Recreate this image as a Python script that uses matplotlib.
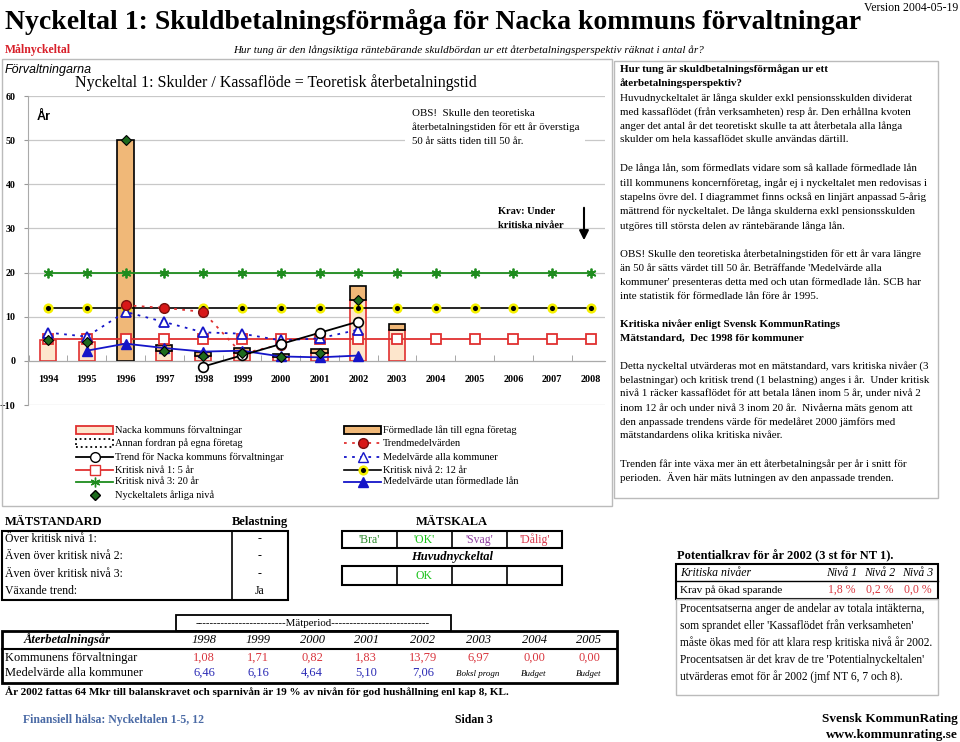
#!/usr/bin/env python3
import numpy as np
import matplotlib
matplotlib.use("Agg")
import matplotlib.pyplot as plt
from matplotlib.patches import Rectangle
from matplotlib.lines import Line2D

plt.rcParams["font.family"] = ["Liberation Serif", "DejaVu Serif"]

# --- data ------------------------------------------------------------------
years = list(range(1994, 2009))
bar_years = list(range(1994, 2004))
nacka = [4.8, 4.2, 0.0, 2.3, 1.08, 1.71, 0.82, 1.83, 13.79, 6.97]
formedlade = [0.0, 0.0, 50.0, 1.4, 1.0, 1.1, 0.7, 0.8, 3.2, 1.4]

arlig_years = list(range(1994, 2003))
arlig = [4.8, 4.2, 50.0, 2.3, 1.08, 1.71, 0.82, 1.83, 13.79]

trend_years = list(range(1998, 2003))
trend_nacka = [-1.3, 1.25, 3.8, 6.35, 8.9]

trendmedel_years = list(range(1996, 2001))
trendmedel = [12.6, 12.0, 11.1, 1.6, 3.7]

medel_alla_years = list(range(1994, 2003))
medel_alla = [6.4, 5.5, 11.1, 8.8, 6.46, 6.16, 4.64, 5.10, 7.06]

medel_utan_years = list(range(1995, 2003))
medel_utan = [2.3, 3.9, 2.9, 2.1, 2.3, 1.0, 0.8, 1.2]

niva1, niva2, niva3 = 5, 12, 20

tab_years = ["1998", "1999", "2000", "2001", "2002", "2003", "2004", "2005"]
kommun_vals = [1.08, 1.71, 0.82, 1.83, 13.79, 6.97, 0.00, 0.00]
medel_vals = [6.46, 6.16, 4.64, 5.10, 7.06]
medel_notes = ["Boksl progn", "Budget", "Budget"]

matstandard_rows = ["Över kritisk nivå 1:", "Även över kritisk nivå 2:",
                    "Även över kritisk nivå 3:", "Växande trend:"]
belastning = ["-", "-", "-", "Ja"]
matskala = ["'Bra'", "'OK'", "'Svag'", "'Dålig'"]
matskala_colors = ["#2E8B2E", "#19C219", "#8E3FA0", "#D8364A"]
pot_levels = ["Nivå 1", "Nivå 2", "Nivå 3"]
pot_vals = ["1,8 %", "0,2 %", "0,0 %"]

W, H = 960, 742
RED = "#E03030"
LIGHT = "#FDE6CC"
DARK = "#F0B878"
BLUE = "#1515C8"
GREEN = "#1E8C1E"
VALRED = "#D9363E"
VALBLUE = "#2B2BB5"

fig = plt.figure(figsize=(W / 100, H / 100), dpi=100)


def fx(x):
    return x / W


def fy(y):
    return 1 - y / H


def txt(x, y, s, **kw):
    kw.setdefault("va", "center")
    kw.setdefault("size", 8.5)
    fig.text(fx(x), fy(y), s, **kw)


def box(x0, y0, x1, y1, lw=1.0, color="black"):
    fig.add_artist(Rectangle((fx(x0), fy(y1)), (x1 - x0) / W, (y1 - y0) / H,
                             transform=fig.transFigure, fill=False,
                             lw=lw, edgecolor=color))


def line(x0, y0, x1, y1, lw=1.0, color="black"):
    fig.add_artist(Line2D([fx(x0), fx(x1)], [fy(y0), fy(y1)],
                          transform=fig.transFigure, lw=lw, color=color))


# --- header ------------------------------------------------------------------
txt(5, 22, "Nyckeltal 1: Skuldbetalningsförmåga för Nacka kommuns förvaltningar",
    size=20, weight="bold")
txt(958, 8, "Version 2004-05-19", size=8.5, ha="right")
txt(5, 50, "Målnyckeltal", size=8.5, weight="bold", color="#D8202A")
txt(233, 50, "Hur tung är den långsiktiga räntebärande skuldbördan ur ett "
    "återbetalningsperspektiv räknat i antal år?", size=8, style="italic")

# --- chart box ------------------------------------------------------------
box(2, 59, 612, 506, lw=1.0, color="#BBBBBB")
txt(5, 70, "Förvaltningarna", size=9, style="italic", family="Liberation Sans")
txt(276, 83, "Nyckeltal 1: Skulder / Kassaflöde = Teoretisk återbetalningstid",
    size=11.5, ha="center")

ax = fig.add_axes([fx(28), fy(405), (605 - 28) / W, (405 - 96) / H])
ax.spines["bottom"].set_position(("data", 0))
ax.set_ylim(-10, 60)
ax.set_xlim(-0.515, 14.36)

pos = {y: i for i, y in enumerate(years)}
xb = np.array([pos[y] for y in bar_years])
nacka_a = np.array(nacka)
form_a = np.array(formedlade)
m = nacka_a > 0
ax.bar(xb[m], nacka_a[m], width=0.42, color=LIGHT, edgecolor=RED, lw=1.2, zorder=2)
m2 = form_a > 0
ax.bar(xb[m2], form_a[m2], bottom=nacka_a[m2], width=0.42, color=DARK,
       edgecolor="black", lw=1.2, zorder=2)

xs = np.arange(len(years))
ax.plot(xs, [niva3] * len(years), color=GREEN, lw=1.3, marker=(6, 2, 0),
        ms=7, mec=GREEN, mew=1.3, zorder=3)
ax.plot(xs, [niva2] * len(years), color="black", lw=1.2, marker="o", ms=5.5,
        mfc="black", mec="#F5F000", mew=1.8, zorder=3)
ax.plot(xs, [niva1] * len(years), color=RED, lw=1.3, marker="s", ms=7,
        mfc="white", mec=RED, mew=1.3, zorder=3)

ax.plot([pos[y] for y in medel_alla_years], medel_alla, color=BLUE, lw=1.3,
        ls=(0, (1.5, 3)), marker="^", ms=7, mfc="white", mec=BLUE, mew=1.3, zorder=4)
ax.plot([pos[y] for y in trendmedel_years], trendmedel, color=RED, lw=1.3,
        ls=(0, (1.5, 3)), marker="o", ms=7, mfc="#D81818", mec="#7A1010", mew=1.0, zorder=4)
ax.plot([pos[y] for y in medel_utan_years], medel_utan, color=BLUE, lw=1.3,
        marker="^", ms=7, mfc=BLUE, mec=BLUE, zorder=4)
ax.plot([pos[y] for y in trend_years], trend_nacka, color="black", lw=1.3,
        marker="o", ms=7, mfc="white", mec="black", mew=1.2, zorder=5)
ax.plot([pos[y] for y in arlig_years], arlig, ls="none", marker="D", ms=5,
        mfc="#1E6B1E", mec="black", mew=0.8, zorder=6)

ax.set_yticks(range(-10, 61, 10))
ax.yaxis.grid(True, color="#C8C8C8", lw=0.9)
ax.set_axisbelow(True)
ax.tick_params(axis="y", length=3, color="#999999", pad=6, labelsize=7.2)
ax.set_xticks(xs)
ax.set_xticklabels([str(y) for y in years])
ax.set_xticks(np.arange(-0.5, 14.5, 1), minor=True)
ax.tick_params(axis="x", which="major", length=0, pad=10, labelsize=7.3)
ax.tick_params(axis="x", which="minor", length=4, color="#999999", direction="in")
for lab in ax.get_yticklabels() + ax.get_xticklabels():
    lab.set_fontweight("bold")
ax.spines["bottom"].set_color("#AAAAAA")
ax.spines["left"].set_color("#AAAAAA")
ax.spines["top"].set_visible(False)
ax.spines["right"].set_visible(False)
ax.set_facecolor("none")

txt(37, 117, "År", size=9, weight="bold", family="Liberation Sans")
fig.add_artist(Rectangle((fx(405), fy(150)), 180 / W, 44 / H, transform=fig.transFigure,
                         facecolor="white", edgecolor="none", zorder=1))
obs_lines = ["OBS!  Skulle den teoretiska", "återbetalningstiden för ett år överstiga",
             "50 år sätts tiden till 50 år."]
for i, s in enumerate(obs_lines):
    txt(412, 113 + 14.5 * i, s, size=7.8, zorder=2)
txt(498, 212, "Krav: Under", size=7.5, weight="bold")
txt(498, 226, "kritiska nivåer", size=7.5, weight="bold")
ax.annotate("", xy=(fx(584), fy(243)), xytext=(fx(584), fy(205)),
            xycoords="figure fraction", textcoords="figure fraction",
            arrowprops=dict(arrowstyle="-|>", color="black", lw=1.5, mutation_scale=14))

# --- legend (drawn by hand in figure pixels) -------------------------------
leg_rows = [430, 443, 457, 470, 482, 495]


def leg_patch(x, y, fc, ec, ls="-"):
    fig.add_artist(Rectangle((fx(x), fy(y + 4)), 37 / W, 8 / H, transform=fig.transFigure,
                             facecolor=fc, edgecolor=ec, lw=1.3, ls=ls))


def leg_line3(x, y, **kw):
    fig.add_artist(Line2D([fx(x), fx(x + 18.5), fx(x + 37)], [fy(y)] * 3,
                          transform=fig.transFigure, markevery=[1], **kw))


lx, rx = 76, 344
leg_patch(lx, leg_rows[0], LIGHT, RED)
leg_patch(lx, leg_rows[1], "none", "black", ls=":")
leg_line3(lx, leg_rows[2], color="black", lw=1.3, marker="o", ms=7, mfc="white", mec="black")
leg_line3(lx, leg_rows[3], color=RED, lw=1.3, marker="s", ms=7, mfc="white", mec=RED)
leg_line3(lx, leg_rows[4], color=GREEN, lw=1.3, marker=(6, 2, 0), ms=7, mec=GREEN)
leg_line3(lx, leg_rows[5], color="none", marker="D", ms=5, mfc="#1E6B1E", mec="black")
leg_patch(rx, leg_rows[0], DARK, "black")
leg_line3(rx, leg_rows[1], color=RED, lw=1.3, ls=(0, (1.5, 3)), marker="o", ms=7,
          mfc="#D81818", mec="#7A1010")
leg_line3(rx, leg_rows[2], color=BLUE, lw=1.3, ls=(0, (1.5, 3)), marker="^", ms=7,
          mfc="white", mec=BLUE)
leg_line3(rx, leg_rows[3], color="black", lw=1.2, marker="o", ms=5.5, mfc="black",
          mec="#F5F000", mew=1.8)
leg_line3(rx, leg_rows[4], color=BLUE, lw=1.3, marker="^", ms=7, mfc=BLUE, mec=BLUE)

left_labels = ["Nacka kommuns förvaltningar", "Annan fordran på egna företag",
               "Trend för Nacka kommuns förvaltningar", "Kritisk nivå 1: 5 år",
               "Kritisk nivå 3: 20 år", "Nyckeltalets årliga nivå"]
right_labels = ["Förmedlade lån till egna företag", "Trendmedelvärden",
                "Medelvärde alla kommuner", "Kritisk nivå 2: 12 år",
                "Medelvärde utan förmedlade lån"]
for y, s in zip(leg_rows, left_labels):
    txt(115, y, s, size=7.5)
for y, s in zip(leg_rows, right_labels):
    txt(383, y, s, size=7.5)

# --- right text box ------------------------------------------------------------
box(614, 61, 938, 498, lw=1.0, color="#BBBBBB")
right_text = [
    (69, "Hur tung är skuldbetalningsförmågan ur ett", "bold"),
    (83, "återbetalningsperspektiv?", "bold"),
    (98, "Huvudnyckeltalet är långa skulder exkl pensionsskulden dividerat", "normal"),
    (112, "med kassaflödet (från verksamheten) resp år. Den erhållna kvoten", "normal"),
    (126, "anger det antal år det teoretiskt skulle ta att återbetala alla långa", "normal"),
    (140, "skulder om hela kassaflödet skulle användas därtill.", "normal"),
    (168, "De långa lån, som förmedlats vidare som så kallade förmedlade lån", "normal"),
    (183, "till kommunens koncernföretag, ingår ej i nyckeltalet men redovisas i", "normal"),
    (197, "stapelns övre del. I diagrammet finns också en linjärt anpassad 5-årig", "normal"),
    (211, "mättrend för nyckeltalet. De långa skulderna exkl pensionsskulden", "normal"),
    (226, "utgöres till största delen av räntebärande långa lån.", "normal"),
    (254, "OBS! Skulle den teoretiska återbetalningstiden för ett år vara längre", "normal"),
    (268, "än 50 år sätts värdet till 50 år. Beträffande 'Medelvärde alla", "normal"),
    (282, "kommuner' presenteras detta med och utan förmedlade lån. SCB har", "normal"),
    (296, "inte statistik för förmedlade lån före år 1995.", "normal"),
    (324, "Kritiska nivåer enligt Svensk KommunRatings", "bold"),
    (338, "Mätstandard,  Dec 1998 för kommuner", "bold"),
    (366, "Detta nyckeltal utvärderas mot en mätstandard, vars kritiska nivåer (3", "normal"),
    (380, "belastningar) och kritisk trend (1 belastning) anges i år.  Under kritisk", "normal"),
    (394, "nivå 1 räcker kassaflödet för att betala lånen inom 5 år, under nivå 2", "normal"),
    (408, "inom 12 år och under nivå 3 inom 20 år.  Nivåerna mäts genom att", "normal"),
    (422, "den anpassade trendens värde för medelåret 2000 jämförs med", "normal"),
    (436, "mätstandardens olika kritiska nivåer.", "normal"),
    (464, "Trenden får inte växa mer än ett återbetalningsår per år i snitt för", "normal"),
    (478, "perioden.  Även här mäts lutningen av den anpassade trenden.", "normal"),
]
for y, s, w in right_text:
    txt(620, y, s, size=7.9, weight=w)

# --- MÄTSTANDARD -----------------------------------------------------------
txt(5, 522, "MÄTSTANDARD", size=9, weight="bold")
txt(260, 522, "Belastning", size=9, weight="bold", ha="center")
box(2, 531, 288, 600, lw=1.5)
line(232, 531, 232, 600, lw=1.2)
for y, s, b in zip([539, 556, 574, 591], matstandard_rows, belastning):
    txt(5, y, s, size=8.5)
    txt(260, y, b, size=8.5, ha="center")

txt(452, 522, "MÄTSKALA", size=9, weight="bold", ha="center")
box(342, 531, 562, 548, lw=1.5)
box(342, 566, 562, 585, lw=1.5)
for xd in [397, 452, 507]:
    line(xd, 531, xd, 548, lw=1.2)
    line(xd, 566, xd, 585, lw=1.2)
for i, (s, c) in enumerate(zip(matskala, matskala_colors)):
    txt(369.5 + 55 * i, 540, s, size=8.5, ha="center", color=c)
txt(452, 557, "Huvudnyckeltal", size=9, weight="bold", style="italic", ha="center")
txt(424.5, 576, "OK", size=8.5, ha="center", color=matskala_colors[1])

# --- Potentialkrav -------------------------------------------------------------
txt(677, 556, "Potentialkrav för år 2002 (3 st för NT 1).", size=9, weight="bold")
box(676, 564, 938, 599, lw=1.5)
line(676, 581, 938, 581, lw=1.0)
txt(680, 573, "Kritiska nivåer", size=8.5, style="italic")
txt(680, 590, "Krav på ökad sparande", size=8)
for i, (lv, v) in enumerate(zip(pot_levels, pot_vals)):
    txt(842 + 38 * i, 573, lv, size=8.5, style="italic", ha="center")
    txt(842 + 38 * i, 590, v, size=8.5, ha="center", color=VALRED)
box(676, 599, 938, 695, lw=1.0, color="#BBBBBB")
pot_text = ["Procentsatserna anger de andelar av totala intäkterna,",
            "som sprandet eller 'Kassaflödet från verksamheten'",
            "måste ökas med för att klara resp kritiska nivå år 2002.",
            "Procentsatsen är det krav de tre 'Potentialnyckeltalen'",
            "utvärderas emot för år 2002 (jmf NT 6, 7 och 8)."]
for i, s in enumerate(pot_text):
    txt(680, 609 + 17 * i, s, size=8.3)

# --- Återbetalningsår table ----------------------------------------------
box(176, 615, 451, 631, lw=1.3)
txt(313, 623, "-------------------------Mätperiod---------------------------",
    size=7.8, ha="center")
box(2, 631, 617, 683, lw=2.0)
line(2, 649, 617, 649, lw=1.5)
txt(67, 640, "Återbetalningsår", size=9, weight="bold", style="italic", ha="center")
col_x = [204, 258, 312, 366, 423, 478, 534, 589]
for cx, yr, kv in zip(col_x, tab_years, kommun_vals):
    txt(cx, 640, yr, size=9, style="italic", ha="center")
    txt(cx, 658, f"{kv:.2f}".replace(".", ","), size=9, ha="center", color=VALRED)
for cx, mv in zip(col_x, medel_vals):
    txt(cx, 673, f"{mv:.2f}".replace(".", ","), size=9, ha="center", color=VALBLUE)
for cx, note in zip(col_x[5:], medel_notes):
    txt(cx, 674, note, size=6.5, style="italic", ha="center")
txt(5, 658, "Kommunens förvaltningar", size=9)
txt(5, 673, "Medelvärde alla kommuner", size=9)

txt(5, 692, "År 2002 fattas 64 Mkr till balanskravet och sparnivån är 19 % av nivån "
    "för god hushållning enl kap 8, KL.", size=8.0, weight="bold")

# --- footer ------------------------------------------------------------------
txt(23, 720, "Finansiell hälsa: Nyckeltalen 1-5, 12", size=8.5, weight="bold", color="#4A6AA5")
txt(455, 720, "Sidan 3", size=8.5, weight="bold")
txt(958, 719, "Svensk KommunRating", size=9.5, weight="bold", ha="right")
txt(958, 735, "www.kommunrating.se", size=9.5, weight="bold", ha="right")

fig.savefig("out.png", dpi=100)
